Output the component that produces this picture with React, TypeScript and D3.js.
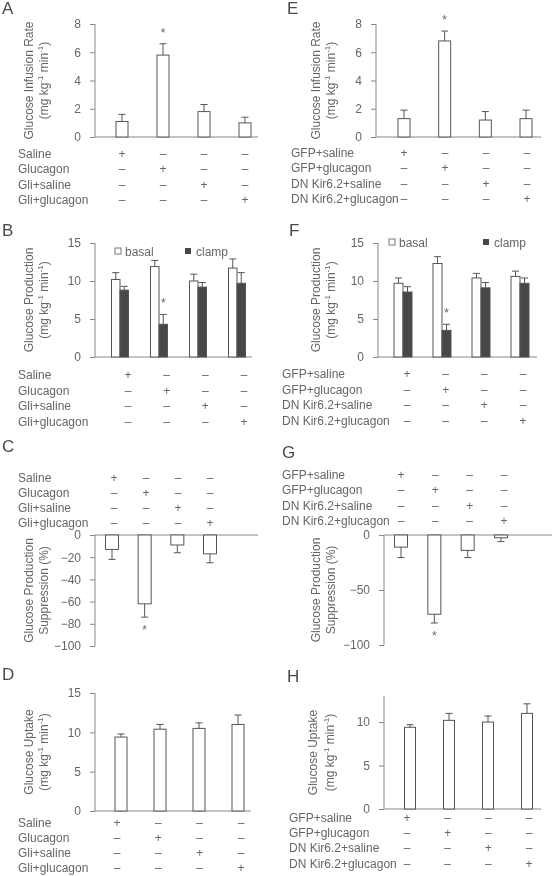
import React, { useEffect, useRef } from "react";
import * as d3 from "d3";

const groups = ["g1", "g2", "g3", "g4"];
const rowsLeft = ["Saline", "Glucagon", "Gli+saline", "Gli+glucagon"];
const rowsRight = ["GFP+saline", "GFP+glucagon", "DN Kir6.2+saline", "DN Kir6.2+glucagon"];
const signs = [
  ["+", "–", "–", "–"],
  ["–", "+", "–", "–"],
  ["–", "–", "+", "–"],
  ["–", "–", "–", "+"],
];

// Glucose infusion rate
const girA = [1.1, 5.8, 1.8, 1.0];
const girAErr = [0.5, 0.8, 0.5, 0.4];
const girE = [1.3, 6.8, 1.2, 1.3];
const girEErr = [0.6, 0.7, 0.6, 0.6];
// Glucose production basal / clamp
const basalB = [10.2, 11.9, 10.0, 11.7];
const basalBErr = [0.9, 0.8, 0.9, 1.2];
const clampB = [8.8, 4.3, 9.2, 9.7];
const clampBErr = [0.5, 1.3, 0.6, 1.4];
const basalF = [9.7, 12.3, 10.4, 10.6];
const basalFErr = [0.7, 0.9, 0.6, 0.7];
const clampF = [8.55, 3.5, 9.1, 9.7];
const clampFErr = [0.7, 0.8, 0.7, 0.7];
// Suppression (%)
const suppC = [-13, -62, -9, -17];
const suppCErr = [9, 12, 7, 8];
const suppG = [-11, -72, -14, -2.5];
const suppGErr = [9.5, 8, 6.5, 3.5];
// Glucose uptake
const uptD = [9.4, 10.4, 10.5, 11.0];
const uptDErr = [0.4, 0.6, 0.7, 1.2];
const uptH = [9.4, 10.2, 10.0, 11.0];
const uptHErr = [0.3, 0.8, 0.7, 1.1];

const ticksA = [0, 2, 4, 6, 8];
const ticksB = [0, 5, 10, 15];
const ticksC = [0, -20, -40, -60, -80, -100];
const ticksG = [0, -50, -100];
const ticksH = [0, 5, 10];

const UNITS = "units";

const TEXT = "#666";
const AXIS = "#888";
const STROKE = "#555";
const DARK = "#474747";
const FONT = "'Liberation Sans', Arial, sans-serif";

type Panel = {
  letter: string; lx: number; ly: number;
  axisX: number; xEnd: number; dom: [number, number]; yr: [number, number]; ticks: number[];
  centers: [number, number]; barW: number; markers: [number, number];
  rows: number[]; rowX: number; rowLabels: string[];
  yl: string[]; ylx: [number, number];
  single?: { v: number[]; e: number[] };
  pair?: { b: number[]; be: number[]; c: number[]; ce: number[]; legend: [number, number, number] };
  star: number;
};

const panels: Panel[] = [
  { letter: "A", lx: 2, ly: 14, axisX: 95, xEnd: 258, dom: [0, 8], yr: [137, 24], ticks: ticksA,
    centers: [122, 245], barW: 12, markers: [122, 245], rows: [153, 168, 184, 199], rowX: 18, rowLabels: rowsLeft,
    yl: ["Glucose Infusion Rate", UNITS], ylx: [29, 44], single: { v: girA, e: girAErr }, star: 1 },
  { letter: "E", lx: 287, ly: 14, axisX: 376, xEnd: 541, dom: [0, 8], yr: [137, 24], ticks: ticksA,
    centers: [404, 526], barW: 12, markers: [404, 527], rows: [152, 167, 183, 198], rowX: 291, rowLabels: rowsRight,
    yl: ["Glucose Infusion Rate", UNITS], ylx: [316, 331], single: { v: girE, e: girEErr }, star: 1 },
  { letter: "B", lx: 2, ly: 236, axisX: 95, xEnd: 252, dom: [0, 15], yr: [357, 243], ticks: ticksB,
    centers: [120, 237], barW: 8.5, markers: [128, 244], rows: [374, 390, 405, 421], rowX: 18, rowLabels: rowsLeft,
    yl: ["Glucose Production", UNITS], ylx: [29, 44],
    pair: { b: basalB, be: basalBErr, c: clampB, ce: clampBErr, legend: [115, 185, 251] }, star: 1 },
  { letter: "F", lx: 289, ly: 236, axisX: 378, xEnd: 537, dom: [0, 15], yr: [357, 243], ticks: ticksB,
    centers: [403, 520], barW: 9, markers: [407, 523], rows: [373, 389, 404, 420], rowX: 282, rowLabels: rowsRight,
    yl: ["Glucose Production", UNITS], ylx: [316, 331],
    pair: { b: basalF, be: basalFErr, c: clampF, ce: clampFErr, legend: [389, 483, 242] }, star: 1 },
  { letter: "C", lx: 2, ly: 452, axisX: 95, xEnd: 258, dom: [-100, 0], yr: [646, 535], ticks: ticksC,
    centers: [112, 210], barW: 13, markers: [114, 210], rows: [477, 492, 507, 522], rowX: 18, rowLabels: rowsLeft,
    yl: ["Glucose Production", "Suppression (%)"], ylx: [29, 44], single: { v: suppC, e: suppCErr }, star: 1 },
  { letter: "G", lx: 282, ly: 458, axisX: 384, xEnd: 552, dom: [-100, 0], yr: [645, 535], ticks: ticksG,
    centers: [401, 501], barW: 13, markers: [401, 504], rows: [474, 489, 505, 520], rowX: 282, rowLabels: rowsRight,
    yl: ["Glucose Production", "Suppression (%)"], ylx: [316, 331], single: { v: suppG, e: suppGErr }, star: 1 },
  { letter: "D", lx: 2, ly: 680, axisX: 95, xEnd: 251, dom: [0, 15], yr: [811, 693], ticks: ticksB,
    centers: [121, 238], barW: 12, markers: [117, 241], rows: [822, 837, 852, 867], rowX: 18, rowLabels: rowsLeft,
    yl: ["Glucose Uptake", UNITS], ylx: [29, 44], single: { v: uptD, e: uptDErr }, star: -1 },
  { letter: "H", lx: 287, ly: 682, axisX: 384, xEnd: 541, dom: [0, 13], yr: [809, 696], ticks: ticksH,
    centers: [410, 527], barW: 11, markers: [407, 529], rows: [817, 832, 847, 863], rowX: 289, rowLabels: rowsRight,
    yl: ["Glucose Uptake", UNITS], ylx: [313, 330], single: { v: uptH, e: uptHErr }, star: -1 },
];

function drawPanel(root: d3.Selection<SVGGElement, unknown, null, undefined>, p: Panel) {
  const g = root.append("g");
  const y = d3.scaleLinear().domain(p.dom).range(p.yr);
  const x = d3.scalePoint<string>().domain(groups).range(p.centers);
  const xm = d3.scalePoint<string>().domain(groups).range(p.markers);

  g.append("text").attr("x", p.lx).attr("y", p.ly).attr("font-size", 17).attr("fill", "#4a4a4a").text(p.letter);

  const ax = d3.axisLeft(y).tickValues(p.ticks).tickSize(5).tickPadding(9).tickFormat(d3.format("d"));
  const ag = g.append("g").attr("transform", `translate(${p.axisX},0)`).call(ax);
  ag.attr("font-family", FONT);
  ag.select(".domain").attr("stroke", AXIS).attr("d", `M0,${y(p.dom[0])}V${y(p.dom[1])}`);
  ag.selectAll(".tick line").attr("stroke", AXIS);
  ag.selectAll(".tick text").attr("fill", TEXT).attr("font-size", 12).attr("font-family", FONT);
  g.append("line").attr("x1", p.axisX).attr("x2", p.xEnd).attr("y1", y(0)).attr("y2", y(0)).attr("stroke", AXIS);

  const errBar = (cx: number, v: number, e: number) => {
    const y1 = y(v), y2 = y(v >= 0 ? v + e : v - e);
    g.append("line").attr("x1", cx).attr("x2", cx).attr("y1", y1).attr("y2", y2).attr("stroke", STROKE);
    g.append("line").attr("x1", cx - 3.5).attr("x2", cx + 3.5).attr("y1", y2).attr("y2", y2).attr("stroke", STROKE);
    return y2;
  };
  const star = (cx: number, yy: number, neg: boolean) => {
    g.append("text").attr("x", cx).attr("y", neg ? yy + 17 : yy - 7).attr("text-anchor", "middle")
      .attr("font-size", 12).attr("fill", TEXT).text("*");
  };

  if (p.single) {
    const { v, e } = p.single;
    groups.forEach((k, i) => {
      const cx = x(k)!;
      const top = Math.min(y(v[i]), y(0)), h = Math.abs(y(v[i]) - y(0));
      g.append("rect").attr("x", cx - p.barW / 2).attr("y", top).attr("width", p.barW).attr("height", h)
        .attr("fill", "#fff").attr("stroke", STROKE);
      const ey = errBar(cx, v[i], e[i]);
      if (i === p.star) star(cx, ey, v[i] < 0);
    });
  }
  if (p.pair) {
    const { b, be, c, ce, legend } = p.pair;
    groups.forEach((k, i) => {
      const cx = x(k)!;
      const bx = cx - p.barW;
      g.append("rect").attr("x", bx).attr("y", y(b[i])).attr("width", p.barW).attr("height", y(0) - y(b[i]))
        .attr("fill", "#fff").attr("stroke", STROKE);
      errBar(bx + p.barW / 2, b[i], be[i]);
      g.append("rect").attr("x", cx).attr("y", y(c[i])).attr("width", p.barW).attr("height", y(0) - y(c[i]))
        .attr("fill", DARK).attr("stroke", STROKE);
      const ey = errBar(cx + p.barW / 2, c[i], ce[i]);
      if (i === p.star) star(cx + p.barW / 2, ey, false);
    });
    const [lw, ld, ly] = legend;
    g.append("rect").attr("x", lw).attr("y", ly - 3).attr("width", 6).attr("height", 6).attr("fill", "#fff").attr("stroke", "#777");
    g.append("text").attr("x", lw + 10).attr("y", ly + 4.5).attr("font-size", 12).attr("fill", TEXT).text("basal");
    g.append("rect").attr("x", ld).attr("y", ly - 3).attr("width", 6).attr("height", 6).attr("fill", DARK);
    g.append("text").attr("x", ld + 11).attr("y", ly + 4.5).attr("font-size", 12).attr("fill", TEXT).text("clamp");
  }

  p.rowLabels.forEach((lab, r) => {
    g.append("text").attr("x", p.rowX).attr("y", p.rows[r] + 4.5).attr("font-size", 12).attr("fill", TEXT).text(lab);
    groups.forEach((k, i) => {
      g.append("text").attr("x", xm(k)!).attr("y", p.rows[r] + 4.5).attr("text-anchor", "middle")
        .attr("font-size", 12).attr("fill", TEXT).text(signs[r][i]);
    });
  });

  const cy = (p.yr[0] + p.yr[1]) / 2;
  p.yl.forEach((line, li) => {
    const t = g.append("text").attr("transform", `translate(${p.ylx[li]},${cy}) rotate(-90)`)
      .attr("text-anchor", "middle").attr("dominant-baseline", "central").attr("font-size", 12).attr("fill", TEXT);
    if (line === UNITS) {
      t.append("tspan").text("(mg kg");
      t.append("tspan").attr("dy", -4).attr("font-size", 8).text("-1");
      t.append("tspan").attr("dy", 4).text(" min");
      t.append("tspan").attr("dy", -4).attr("font-size", 8).text("-1");
      t.append("tspan").attr("dy", 4).text(")");
    } else {
      t.text(line);
    }
  });
}

export default function App() {
  const ref = useRef<SVGSVGElement>(null);
  useEffect(() => {
    const svg = d3.select(ref.current!);
    svg.selectAll("*").remove();
    const root = svg.append("g").attr("font-family", FONT) as any;
    panels.forEach((p) => drawPanel(root, p));
  }, []);
  return (
    <svg ref={ref} width={552} height={876}
      style={{ position: "absolute", left: 0, top: 0, background: "#fff", fontFamily: FONT, filter: "grayscale(1)" }} />
  );
}
